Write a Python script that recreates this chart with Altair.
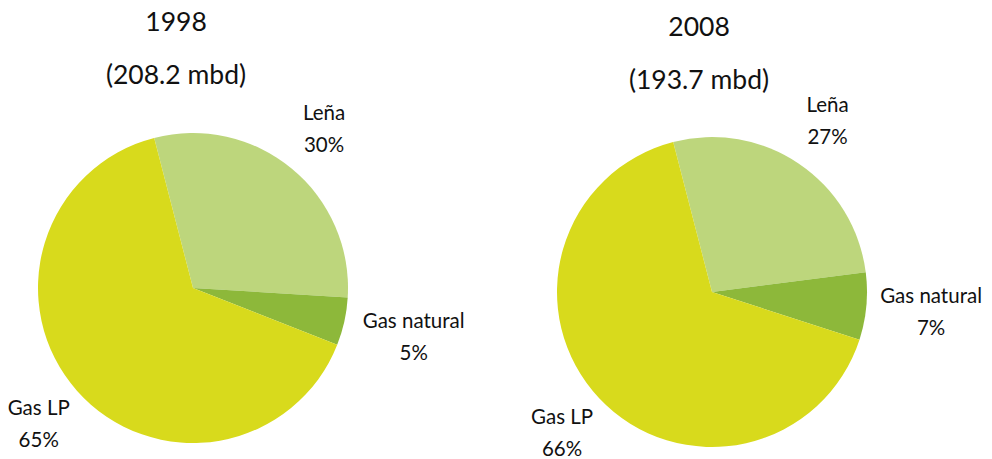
import math
import altair as alt
import pandas as pd

fuels = ["Leña", "Gas natural", "Gas LP"]
pct_1998 = [30, 5, 65]
pct_2008 = [27, 7, 66]
years = ["1998", "2008"]
totals = ["(208.2 mbd)", "(193.7 mbd)"]
colors = ["#BDD67C", "#8DB83A", "#D8DA1C"]

rows = []
for yr, vals in zip(years, [pct_1998, pct_2008]):
    for i, (f, v) in enumerate(zip(fuels, vals)):
        rows.append({"year": yr, "fuel": f, "pct": v, "ord": i})
df = pd.DataFrame(rows)
title_df = pd.DataFrame({"year": years, "total": totals})

FONT = "Lato"
a0 = math.radians(-14.5)
theta_scale = alt.Scale(domain=[0, 100], range=[a0, a0 + 2 * math.pi])


def pie(year, cx, cy, tx, ty, gn_r):
    src = alt.Chart(df).transform_filter(alt.datum.year == year)
    arc = src.mark_arc(outerRadius=155).encode(
        theta=alt.Theta("pct:Q", stack=True, scale=theta_scale),
        order=alt.Order("ord:Q", sort="ascending"),
        color=alt.Color("fuel:N", scale=alt.Scale(domain=fuels, range=colors), legend=None),
        x=alt.value(cx),
        y=alt.value(cy),
    )
    lab = (
        src.transform_window(cum="sum(pct)", sort=[alt.SortField("ord", order="ascending")], frame=[None, 0])
        .transform_calculate(
            mid="datum.cum - datum.pct / 2",
            lab="datum.fuel + '\\n' + datum.pct + '%'",
            lr=f"datum.fuel == 'Gas natural' ? {gn_r} : 206",
        )
        .mark_text(lineBreak="\n", fontSize=20.5, lineHeight=32, font=FONT, color="#111111",
                   baseline="middle", dy=-15)
        .encode(
            theta=alt.Theta("mid:Q", stack=False, scale=theta_scale),
            radius=alt.Radius("lr:Q", scale=None),
            text="lab:N",
            x=alt.value(cx),
            y=alt.value(cy),
        )
    )
    title = (
        alt.Chart(title_df)
        .transform_filter(alt.datum.year == year)
        .transform_calculate(t="datum.year + '\\n' + datum.total")
        .mark_text(lineBreak="\n", fontSize=26.5, lineHeight=53, font=FONT, color="#111111", baseline="middle")
        .encode(text="t:N", x=alt.value(tx), y=alt.value(ty))
    )
    return [arc, lab, title]


layers = pie("1998", 185, 280, 168, 15, 226) + pie("2008", 704, 284, 691, 20, 220)

chart = (
    alt.layer(*layers)
    .properties(width=976, height=451, autosize=alt.AutoSizeParams(type="none"), padding=0, background="white")
    .configure_view(strokeWidth=0)
)

chart.save("out.html", embed_options={"renderer": "svg", "actions": False})
